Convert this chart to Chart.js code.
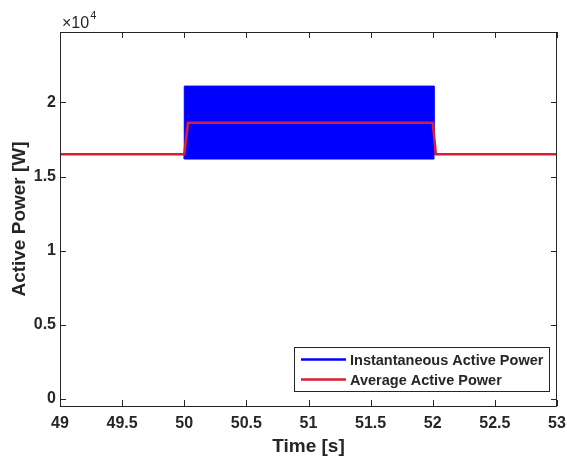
<!DOCTYPE html>
<html>
<head>
<meta charset="utf-8">
<script src="https://cdn.jsdelivr.net/npm/chart.js@4/dist/chart.umd.min.js"></script>
<style>
  html, body { margin: 0; padding: 0; background: #fff; }
  #wrap { width: 567px; height: 458px; }
</style>
</head>
<body>
<div id="wrap"><canvas id="c" width="567" height="458"></canvas></div>
<script>
// data
var instTime  = [49, 50, 50, 52.01, 52.01, 53];
var instUpper = [16500, 16500, 21100, 21100, 16500, 16500];
var instLower = [16500, 16500, 16180, 16180, 16500, 16500];
var avgTime   = [49, 50, 50.03, 52, 52.025, 53];
var avgPower  = [16500, 16500, 18630, 18630, 16500, 16500];
var xTicks = [49, 49.5, 50, 50.5, 51, 51.5, 52, 52.5, 53];
var yTicks = [0, 5000, 10000, 15000, 20000];

var FONT = "'Liberation Sans', Arial, Helvetica, sans-serif";
var INK = '#262626';
var BLUE = '#0000ff';
var RED = '#dc1e32';

function pts(xs, ys) { return xs.map(function(x, i){ return {x: x, y: ys[i]}; }); }

// box, inward ticks, x10^4 and legend, MATLAB style
var matlabAxes = {
    id: 'matlabAxes',
    afterDraw: function(chart){
        var ctx = chart.ctx, a = chart.chartArea;
        var xs = chart.scales.x, ys = chart.scales.y;
        var tl = 6;
        ctx.save();
        ctx.strokeStyle = INK;
        ctx.lineWidth = 1;
        ctx.strokeRect(Math.round(a.left) + 0.5, Math.round(a.top) + 0.5,
                       Math.round(a.right - a.left) - 1, Math.round(a.bottom - a.top));
        ctx.beginPath();
        xTicks.forEach(function(v){
            var px = Math.round(xs.getPixelForValue(v)) + 0.5;
            ctx.moveTo(px, a.bottom); ctx.lineTo(px, a.bottom - tl);
            ctx.moveTo(px, a.top); ctx.lineTo(px, a.top + tl);
        });
        yTicks.forEach(function(v){
            var py = Math.round(ys.getPixelForValue(v)) + 0.5;
            ctx.moveTo(a.left, py); ctx.lineTo(a.left + tl, py);
            ctx.moveTo(a.right, py); ctx.lineTo(a.right - tl, py);
        });
        ctx.stroke();

        // exponent label
        ctx.fillStyle = INK;
        ctx.textBaseline = 'alphabetic';
        ctx.textAlign = 'left';
        ctx.font = '16px ' + FONT;
        ctx.fillText('\u00d710', a.left + 2, a.top - 4);
        var w = ctx.measureText('\u00d710').width;
        ctx.font = '11px ' + FONT;
        ctx.fillText('4', a.left + 2 + w + 1, a.top - 13);

        // legend
        var lx = 294, ly = 347, lw = 255, lh = 44;
        ctx.fillStyle = '#fff';
        ctx.fillRect(lx, ly, lw, lh);
        ctx.strokeStyle = INK;
        ctx.strokeRect(lx + 0.5, ly + 0.5, lw, lh);
        var items = [
            {label: chart.data.datasets[0].label, color: BLUE},
            {label: chart.data.datasets[2].label, color: RED}
        ];
        ctx.font = 'bold 14.5px ' + FONT;
        ctx.textBaseline = 'middle';
        items.forEach(function(it, i){
            var y = ly + 12.5 + i * 20;
            ctx.strokeStyle = it.color;
            ctx.lineWidth = 2.5;
            ctx.beginPath();
            ctx.moveTo(lx + 7, y); ctx.lineTo(lx + 52, y);
            ctx.stroke();
            ctx.fillStyle = INK;
            ctx.fillText(it.label, lx + 56, y + 1);
        });
        ctx.restore();
    }
};

new Chart(document.getElementById('c'), {
    type: 'line',
    data: {
        datasets: [
            {
                label: 'Instantaneous Active Power',
                data: pts(instTime, instUpper),
                borderColor: BLUE,
                backgroundColor: BLUE,
                borderWidth: 1,
                fill: '+1',
                order: 2
            },
            {
                label: 'inst-lower',
                data: pts(instTime, instLower),
                borderColor: BLUE,
                borderWidth: 1,
                fill: false,
                order: 3
            },
            {
                label: 'Average Active Power',
                data: pts(avgTime, avgPower),
                borderColor: RED,
                borderWidth: 2.6,
                fill: false,
                order: 1
            }
        ]
    },
    options: {
        responsive: false,
        animation: false,
        devicePixelRatio: 1,
        elements: { point: { radius: 0 }, line: { tension: 0 } },
        layout: { padding: { top: 32, right: 10, left: 0, bottom: 0 } },
        plugins: { legend: { display: false }, tooltip: { enabled: false } },
        scales: {
            x: {
                type: 'linear',
                min: 49, max: 53,
                afterFit: function(s){ s.height = 52; s.paddingLeft = 0; s.paddingRight = 0; },
                afterBuildTicks: function(s){ s.ticks = xTicks.map(function(v){ return {value: v}; }); },
                grid: { display: false, drawTicks: false },
                border: { display: false },
                ticks: {
                    padding: 8,
                    color: INK,
                    font: { family: FONT, size: 16, weight: 'bold' },
                    maxRotation: 0,
                    callback: function(v){ return String(v); }
                },
                title: {
                    display: true,
                    text: 'Time [s]',
                    color: INK,
                    font: { family: FONT, size: 19, weight: 'bold' },
                    padding: 0
                }
            },
            y: {
                type: 'linear',
                min: -480, max: 24750,
                afterFit: function(s){ s.width = 60; s.paddingTop = 0; s.paddingBottom = 0; },
                afterBuildTicks: function(s){ s.ticks = yTicks.map(function(v){ return {value: v}; }); },
                grid: { display: false, drawTicks: false },
                border: { display: false },
                ticks: {
                    padding: 4,
                    color: INK,
                    font: { family: FONT, size: 16, weight: 'bold' },
                    callback: function(v){ return String(v / 10000); }
                },
                title: {
                    display: true,
                    text: 'Active Power [W]',
                    color: INK,
                    font: { family: FONT, size: 19, weight: 'bold' },
                    padding: { top: 8, bottom: 0 }
                }
            }
        }
    },
    plugins: [matlabAxes]
});
</script>
</body>
</html>
